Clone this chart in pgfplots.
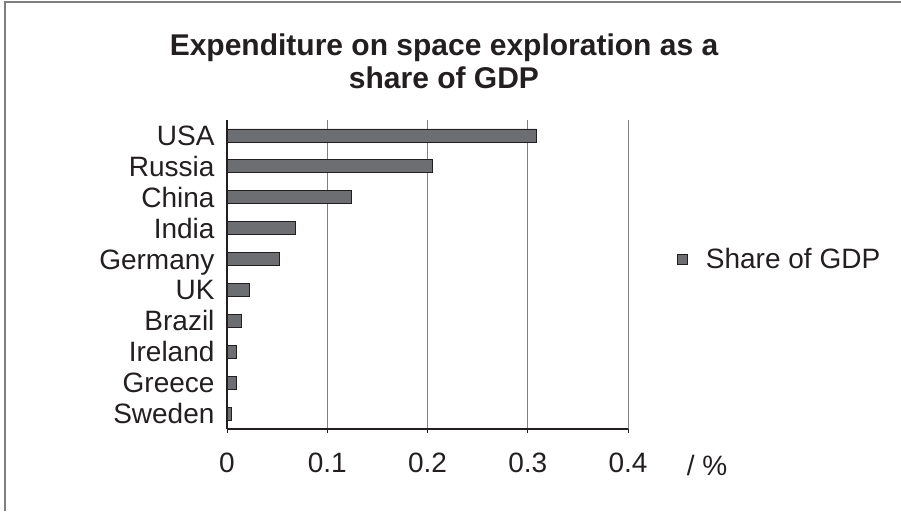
\documentclass[border=0pt]{standalone}
\usepackage{fontspec}
\setmainfont{Liberation Sans}
\usepackage{pgfplots}
\pgfplotsset{compat=1.18}
\definecolor{barfill}{HTML}{6D6E71}
\definecolor{ink}{HTML}{231F20}
\definecolor{gridgray}{HTML}{7F7F7F}
\begin{document}
\begin{tikzpicture}[x=1pt,y=1pt]
\useasboundingbox (0,0) rectangle (901,511);
% frame (top and left only)
\draw[gridgray, line width=1.5pt] (5,0) -- (5,509) -- (901,509);
\node[font=\bfseries\fontsize{30}{33}\selectfont, text=ink, align=center] at (444,450) {Expenditure on space exploration as a\\share of GDP};
\begin{axis}[
  at={(227pt,82pt)}, anchor=south west,
  scale only axis, width=401pt, height=309pt,
  xbar, bar width=13pt,
  xmin=0, xmax=0.4, ymin=-0.5, ymax=9.5,
  axis x line*=bottom, axis y line*=left,
  axis line style={ink, line width=1.6pt},
  xtick={0,0.1,...,0.4},
  xticklabels={0,0.1,0.2,0.3,0.4},
  xmajorgrids, major grid style={gridgray, line width=0.8pt},
  x tick style={ink, line width=1pt}, tick align=outside,
  major tick length=4pt,
  ytick={0,...,9},
  yticklabels={Sweden,Greece,Ireland,Brazil,UK,Germany,India,China,Russia,USA},
  y tick style={draw=none},
  minor ytick={-0.5,0.5,...,9.5},
  minor tick style={ink, line width=1pt},
  minor tick length=6pt,
  tick label style={font=\fontsize{28}{30}\selectfont, text=ink},
  /pgf/number format/assume math mode=true,
  yticklabel style={xshift=-5pt, text height=24pt, text depth=4pt},
  xticklabel style={yshift=-16pt},
  legend style={at={(1.113,0.55)}, anchor=west, draw=none, fill=none,
    font=\fontsize{28}{30}\selectfont, text=ink, nodes={inner xsep=0pt}},
  legend image code/.code={\path[draw=none, fill=none] (0pt,-5pt) rectangle (29pt,5pt);
    \draw[#1] (0pt,-5pt) rectangle (10pt,5pt);},
]
\addplot[fill=barfill, draw=ink, line width=0.8pt] coordinates {
  (0.0043,0) (0.009,1) (0.009,2) (0.0143,3) (0.0226,4)
  (0.052,5) (0.068,6) (0.124,7) (0.205,8) (0.309,9)
};
\addlegendentry{Share of GDP}
\end{axis}
\node[font=\fontsize{28}{30}\selectfont, text=ink] at (707,46) {/ \%};
\end{tikzpicture}
\end{document}
